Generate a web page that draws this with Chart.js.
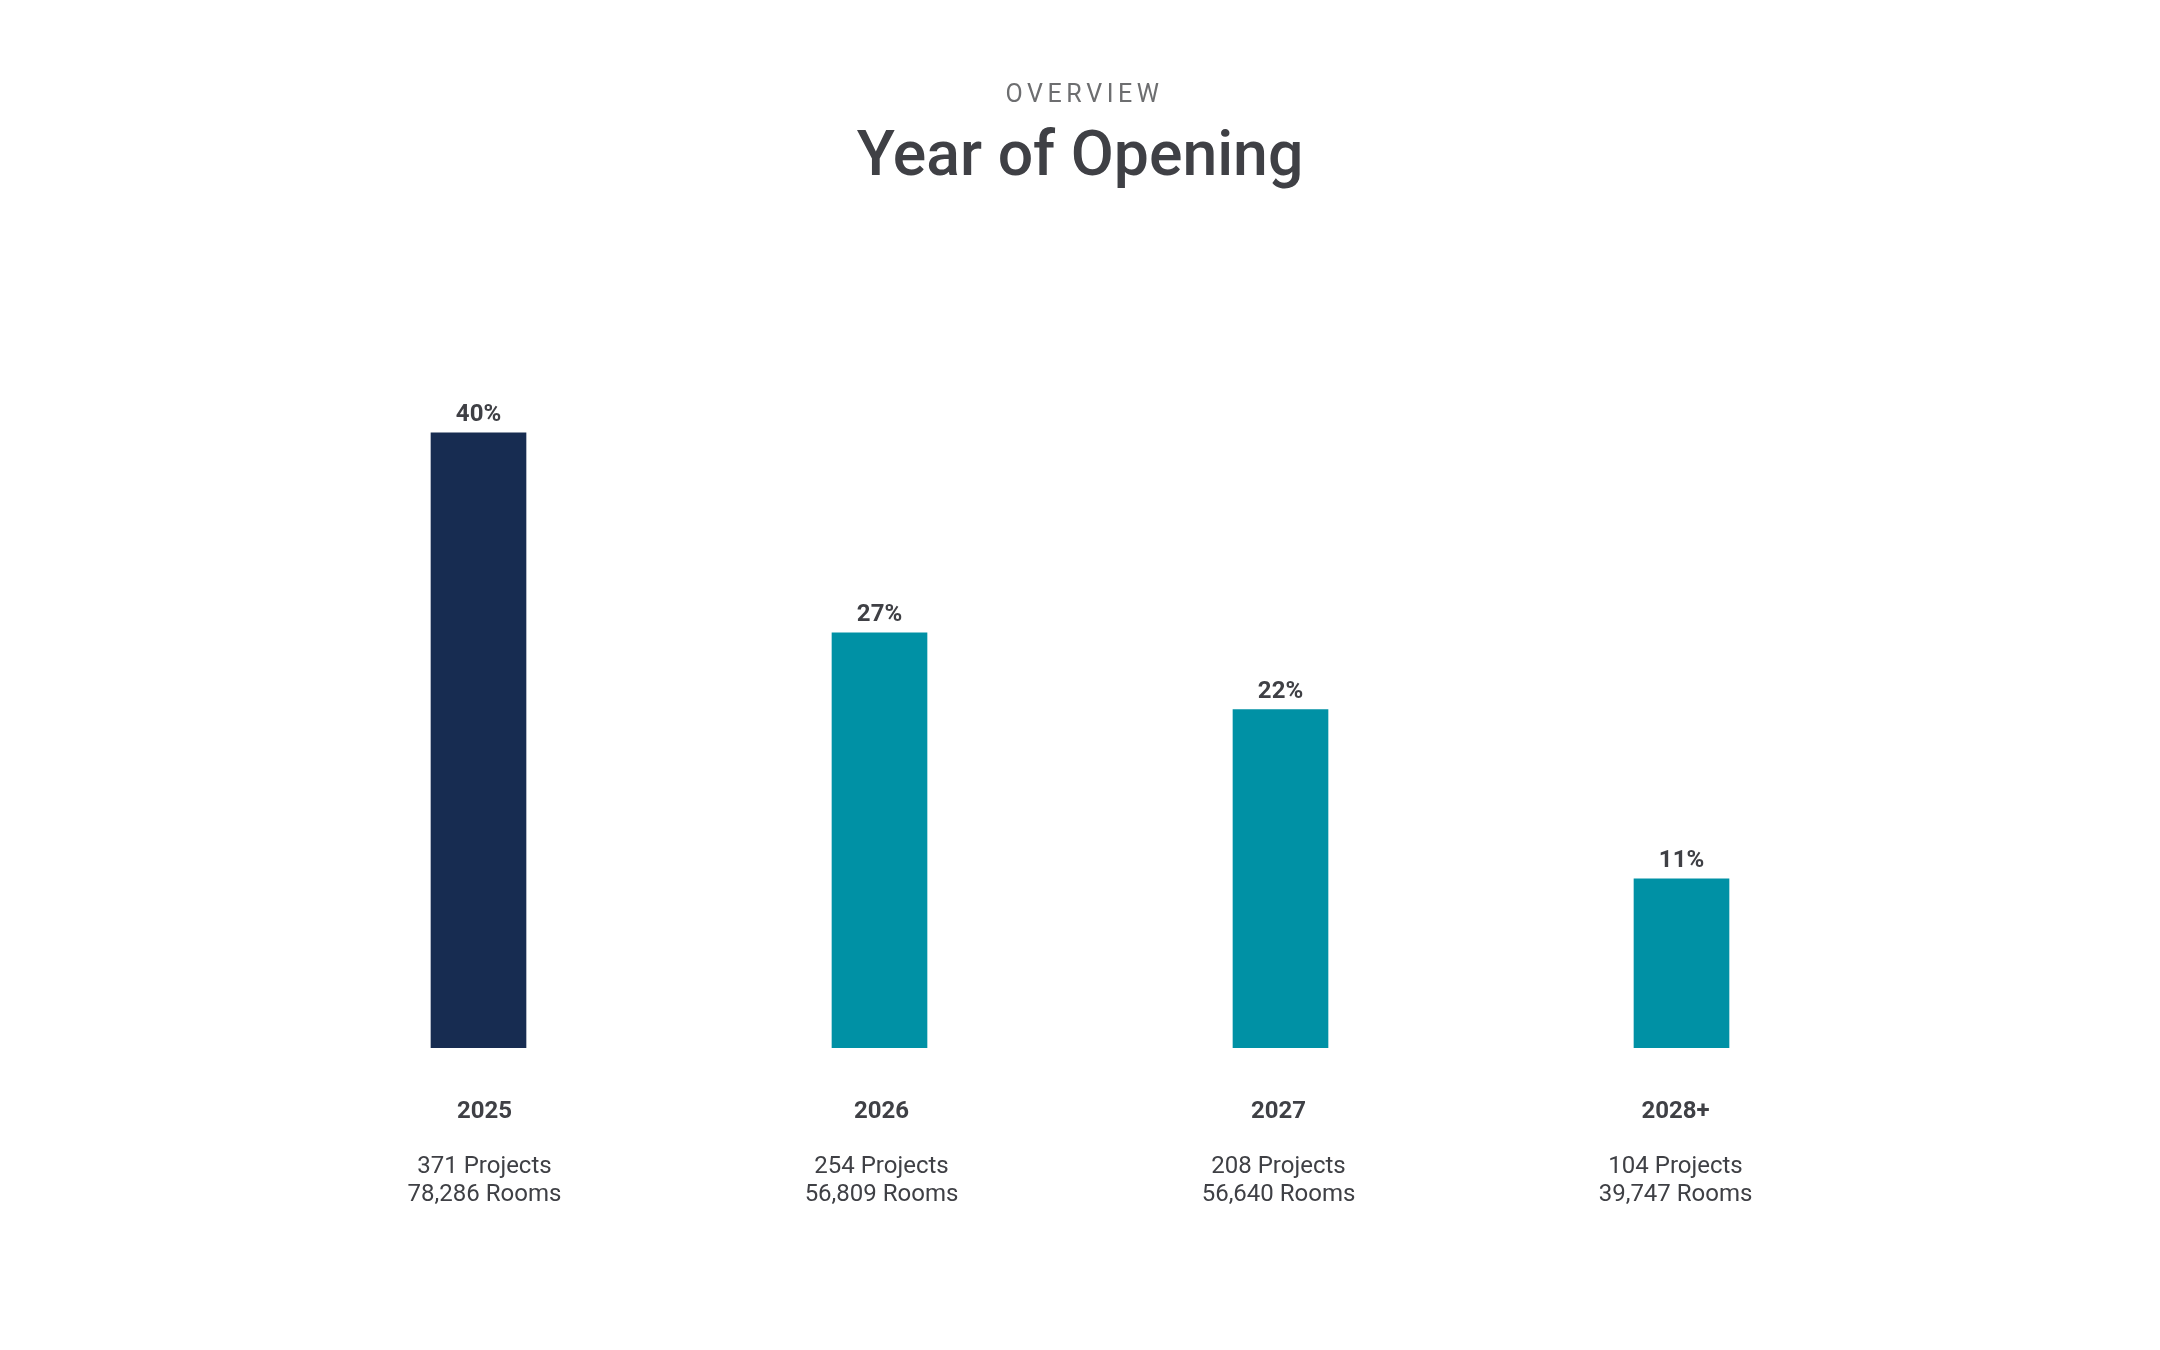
<!DOCTYPE html>
<html>
<head>
<meta charset="utf-8">
<script src="https://cdn.jsdelivr.net/npm/chart.js@4"></script>
<style>
    body { margin: 0; background: #fff; font-family: Roboto, sans-serif; }
    #wrap { position: relative; width: 2160px; height: 1350px; }
    .kicker, .title { position: absolute; left: 0; width: 2160px; text-align: center; line-height: 1; }
    .kicker { top: 81px; font-size: 25px; letter-spacing: 4.6px; padding-left: 4.6px; color: #6d6e70; }
    .title { top: 123px; font-size: 62.5px; font-weight: 500; color: #3f4045; }
</style>
</head>
<body>
<div id="wrap">
    <div class="kicker">OVERVIEW</div>
    <div class="title">Year of Opening</div>
    <canvas id="openingChart" width="2160" height="1350"></canvas>
</div>
<script>
const years = ['2025', '2026', '2027', '2028+'];
const shares = [40, 27, 22, 11];
const projects = [371, 254, 208, 104];
const rooms = ['78,286', '56,809', '56,640', '39,747'];
const barColors = ['#172c51', '#0091a5', '#0091a5', '#0091a5'];

const textColor = '#3f4045';

// draw the % value above each bar
const valueLabels = {
    id: 'valueLabels',
    afterDatasetsDraw(chart) {
        const ctx = chart.ctx;
        const meta = chart.getDatasetMeta(0);
        ctx.save();
        ctx.font = 'bold 24px Roboto';
        ctx.fillStyle = textColor;
        ctx.textAlign = 'center';
        ctx.textBaseline = 'alphabetic';
        meta.data.forEach((bar, i) => {
            ctx.fillText(shares[i] + '%', bar.x, bar.y - 12);
        });
        ctx.restore();
    }
};

// label rows sit on their own index axes, spaced a little tighter than the bars
function labelAxis(weight, padding, fontWeight, lines) {
    return {
        type: 'linear',
        position: 'bottom',
        weight: weight,
        offset: false,
        min: -0.52,
        max: 3.52,
        afterBuildTicks: (scale) => { scale.ticks = years.map((y, i) => ({ value: i })); },
        grid: { display: false, offset: false },
        border: { display: false },
        ticks: {
            padding: padding,
            color: textColor,
            autoSkip: false,
            maxRotation: 0,
            font: { family: 'Roboto', size: 24, weight: fontWeight, lineHeight: 1.18 },
            callback: (value, i) => lines[i]
        },
        afterFit: (scale) => { scale.height = 80; }
    };
}

new Chart(document.getElementById('openingChart'), {
    type: 'bar',
    data: {
        labels: years,
        datasets: [{
            data: shares,
            backgroundColor: barColors,
            barThickness: 95,
        }]
    },
    options: {
        responsive: false,
        animation: false,
        layout: {
            padding: { top: 279, left: 278, right: 278, bottom: 142 }
        },
        plugins: {
            legend: { display: false },
            tooltip: { enabled: false }
        },
        scales: {
            y: {
                display: false,
                min: 0,
                max: 50
            },
            x: {
                display: false
            },
            xYear: labelAxis(0, 42, 'bold', years),
            xInfo: labelAxis(1, 17, 'normal', projects.map((p, i) => [p + ' Projects', rooms[i] + ' Rooms']))
        }
    },
    plugins: [valueLabels]
});
</script>
</body>
</html>
